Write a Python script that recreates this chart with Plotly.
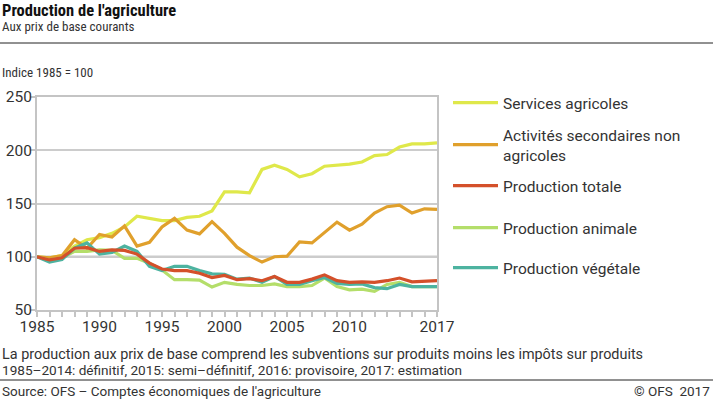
import plotly.graph_objects as go

years = [1985, 1986, 1987, 1988, 1989, 1990, 1991, 1992, 1993, 1994, 1995, 1996,
         1997, 1998, 1999, 2000, 2001, 2002, 2003, 2004, 2005, 2006, 2007, 2008,
         2009, 2010, 2011, 2012, 2013, 2014, 2015, 2016, 2017]

services = [100, 99, 101, 110, 116, 118, 122, 128, 138, 136, 134, 134, 137, 138, 143,
            161, 161, 160, 182, 186, 182, 175, 178, 185, 186, 187, 189, 195, 196, 203,
            206, 206, 207]
secondaires = [100, 99, 101, 116, 108, 121, 118.5, 129, 110, 113.5, 128, 136, 125, 121.5,
               133, 122, 109, 101, 95, 100, 100.5, 114, 113, 123, 132.5, 125, 130.5, 141,
               147, 148.5, 141, 145, 144.5]
totale = [100, 97, 99, 108, 108.5, 105, 106.5, 106, 102.5, 94, 88.5, 87, 87, 84.5, 80.5,
          82.5, 78.5, 79.5, 77.5, 81.5, 76, 76, 79, 83, 77.5, 76, 76.5, 76, 77.5, 80,
          76.5, 77, 77.5]
animale = [100, 97, 99, 105, 105, 106.5, 106, 98.5, 98.5, 94, 87.5, 78.5, 78.5, 78, 71.5,
           76, 74, 73, 73, 74.5, 72, 72, 73, 80, 72, 69, 69.5, 67.5, 74, 76, 72, 72, 72]
vegetale = [100, 95, 97.5, 108, 113, 102.5, 104, 110, 105, 91, 87, 91, 91, 87, 84, 83.5,
            79, 80, 76, 81.5, 74, 74, 77.5, 80.5, 75, 74, 74.5, 71, 70, 74, 72, 72, 72]

names = ["Services agricoles", "Activités secondaires non<br>agricoles",
         "Production totale", "Production animale", "Production végétale"]
colors = ["#dfe84a", "#e0a02c", "#d4502a", "#b4de6a", "#4db3a0"]

x_ticks = [1985, 1990, 1995, 2000, 2005, 2010, 2017]
y_ticks = [50, 100, 150, 200, 250]

W, H = 713, 403
L, R, T, B = 37, 437, 97, 310


def px(xp):
    return (xp - L) / (R - L)


def py(yp):
    return (B - yp) / (B - T)


series = [services, secondaires, totale, animale, vegetale]
legend_ids = ["legend", "legend2", "legend3", "legend4", "legend5"]
legend_centers = [103, 145, 186, 228, 268]
draw_order = [0, 1, 3, 4, 2]

FONT = "Roboto, Arial, sans-serif"
COND = "Roboto Condensed, Liberation Sans Narrow, Roboto, sans-serif"

fig = go.Figure()
for i in draw_order:
    fig.add_trace(go.Scatter(
        x=years, y=series[i], name=names[i], mode="lines",
        line=dict(color=colors[i], width=3.2),
        legend=legend_ids[i],
        hoverinfo="skip",
    ))

legends = {}
for lid, yc in zip(legend_ids, legend_centers):
    legends[lid] = dict(
        x=px(448), y=py(yc), xanchor="left", yanchor="middle",
        font=dict(family=FONT, size=15.5, color="#333333"),
        itemwidth=45, valign="middle",
        bgcolor="rgba(0,0,0,0)",
    )

fig.update_layout(
    width=W, height=H,
    margin=dict(l=L, r=W - R, t=T, b=H - B, pad=0, autoexpand=False),
    paper_bgcolor="white", plot_bgcolor="white",
    font=dict(family=FONT, size=14, color="#333333"),
    showlegend=True,
    **legends,
    xaxis=dict(
        range=[1985, 2017], tickvals=x_ticks, ticktext=[str(v) for v in x_ticks],
        showgrid=False, zeroline=False, automargin=False,
        showline=True, linecolor="#c4c4c4", linewidth=2, mirror=True,
        ticks="outside", ticklen=5, tickwidth=1.5, tickcolor="#c4c4c4",
        ticklabelstandoff=-4,
        minor=dict(dtick=1, tick0=1985, ticks="outside", ticklen=5,
                   tickwidth=1.5, tickcolor="#c4c4c4", showgrid=False),
        tickfont=dict(family=FONT, size=15.5, color="#333333"),
        fixedrange=True,
    ),
    yaxis=dict(
        range=[50, 250], tickvals=y_ticks,
        showgrid=True, gridcolor="#cccccc", gridwidth=1.5, zeroline=False,
        automargin=False,
        showline=True, linecolor="#c4c4c4", linewidth=2, mirror=True,
        ticks="outside", ticklen=5, tickwidth=1.5, tickcolor="#c4c4c4",
        ticklabelstandoff=-5,
        tickfont=dict(family=FONT, size=15.5, color="#333333"),
        fixedrange=True,
    ),
)

fig.add_shape(type="line", xref="x", yref="y", x0=1985, x1=2017, y0=100, y1=100,
              line=dict(color="#999999", width=2.2), layer="below")

# header / footer rules
fig.add_shape(type="line", xref="paper", yref="paper", x0=px(0), x1=px(W),
              y0=py(43), y1=py(43), line=dict(color="#222222", width=1))
fig.add_shape(type="line", xref="paper", yref="paper", x0=px(0), x1=px(W),
              y0=py(380), y1=py(380), line=dict(color="#222222", width=1))


def text(s, xp, yp, size, family=FONT, color="#222222", anchor="left", bold=False):
    fig.add_annotation(
        text=("<b>%s</b>" % s) if bold else s,
        xref="paper", yref="paper", x=px(xp), y=py(yp),
        xanchor=anchor, yanchor="middle", showarrow=False,
        font=dict(family=family, size=size, color=color),
    )


text("Production de l'agriculture", 0, 11, 16.5, family=COND, color="#111111", bold=True)
text("Aux prix de base courants", 0, 26, 13, family=COND, color="#333333")
text("Indice 1985 = 100", 0, 72, 13, family=COND, color="#333333")
text("La production aux prix de base comprend les subventions sur produits moins les impôts sur produits",
     0, 354.5, 14.4, color="#333333")
text("1985–2014: définitif, 2015: semi–définitif, 2016: provisoire, 2017: estimation",
     0, 370, 13.6, color="#333333")
text("Source: OFS – Comptes économiques de l'agriculture", 0, 391, 13.5, color="#333333")
text("© OFS  2017", 712, 391, 13.5, color="#333333", anchor="right")

fig.write_html("out.html", config={"displayModeBar": False, "staticPlot": False},
               post_script="document.body.style.margin='0';document.body.style.overflow='hidden';")
